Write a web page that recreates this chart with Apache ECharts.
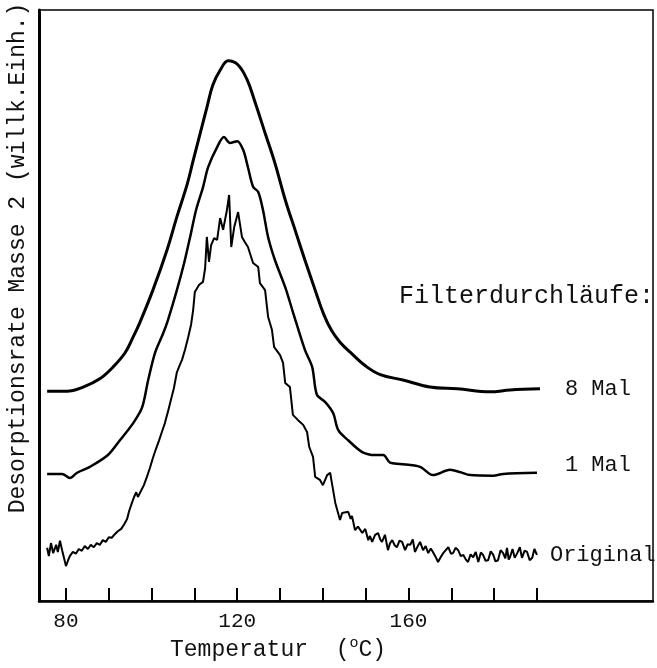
<!DOCTYPE html>
<html lang="de">

<head>
    <meta charset="UTF-8">
    <title>Desorptionsrate Masse 2</title>
    <script src="https://cdn.jsdelivr.net/npm/echarts@6/dist/echarts.min.js"></script>
    <style>
        html, body { margin: 0; padding: 0; background: #fff; }
    </style>
</head>

<body>

    <div id="main" style="width: 657px;height: 668px;"></div>

    <script type="text/javascript">
        // Temperatur (°C) und Desorptionsrate (willk. Einh.) fuer jede Kurve
        var temp8 = [75.6, 80.2, 84.0, 87.9, 91.0, 93.8, 95.7, 97.3, 100.3, 103.6, 105.9, 108.3, 109.7, 111.3, 112.9,
            114.3, 116.0, 117.9, 120.2, 122.3, 124.2, 126.5, 128.8, 131.2, 133.5, 135.8, 138.2, 140.2, 142.0, 144.0,
            146.8, 149.9, 153.4, 158.7, 165.0, 171.4, 179.1, 183.7, 190.7];
        var rate8 = [35.5, 35.5, 36.2, 37.6, 39.6, 42.0, 44.7, 47.2, 52.6, 59.4, 65.0, 70.5, 74.5, 79.0, 83.5,
            87.3, 89.8, 91.4, 90.7, 88.2, 84.3, 79.2, 74.1, 67.9, 62.8, 57.7, 52.6, 48.5, 45.8, 43.8,
            41.8, 39.8, 38.3, 37.4, 36.2, 35.9, 35.4, 35.7, 35.9];

        var temp1 = [75.6, 79.1, 80.9, 82.6, 85.6, 89.8, 92.6, 95.7, 97.8, 99.2, 100.8, 102.7, 103.8, 105.9, 107.6,
            109.0, 110.4, 112.0, 113.2, 115.3, 116.9, 118.3, 120.0, 121.4, 122.5, 123.7, 124.9, 126.0, 127.2, 128.8,
            131.2, 133.0, 135.8, 137.5, 138.6, 140.5, 142.4, 143.6, 145.9, 149.2, 152.2, 154.1, 155.7, 158.0, 162.7,
            165.7, 169.7, 172.1, 174.4, 179.8, 182.1, 190.0];
        var rate1 = [21.5, 21.5, 20.8, 21.7, 22.7, 24.7, 27.2, 30.1, 32.8, 37.4, 42.0, 45.3, 47.5, 52.6, 57.2,
            61.6, 66.2, 70.0, 73.4, 76.8, 78.5, 77.5, 77.8, 76.3, 73.4, 70.1, 69.2, 66.2, 61.6, 57.7,
            53.1, 48.9, 42.5, 39.6, 34.9, 33.7, 31.8, 28.9, 27.2, 25.2, 24.7, 24.7, 23.4, 23.2, 22.7,
            21.3, 22.2, 21.8, 21.3, 21.2, 21.5, 21.7];

        var tempOrig = [75.6, 76.0, 76.5, 77.0, 77.7, 78.1, 78.6, 79.1, 79.5, 80.0, 80.5, 80.9, 81.6, 82.3, 83.0,
            83.7, 84.4, 85.1, 85.8, 86.5, 87.2, 87.9, 88.6, 89.3, 90.0, 90.7, 91.4, 92.1, 92.9, 93.6,
            94.3, 94.7, 95.4, 95.9, 96.4, 96.8, 97.5, 98.2, 98.9, 99.6, 100.3, 101.0, 101.7, 102.4, 103.1,
            103.8, 104.5, 105.2, 105.9, 106.4, 107.1, 107.8, 108.5, 109.2, 109.7, 110.1, 111.1, 112.0, 112.5, 112.9,
            113.4, 113.9, 114.6, 115.3, 116.0, 116.7, 117.6, 118.1, 118.6, 119.3, 120.2, 121.1, 121.8, 122.5, 123.7,
            124.9, 125.3, 126.5, 127.2, 128.1, 128.6, 130.0, 130.7, 131.2, 132.3, 133.0, 134.2, 135.4, 136.3, 136.8,
            137.7, 138.2, 139.3, 140.0, 141.0, 141.7, 142.1, 142.9, 144.0, 144.5,
            145.9, 146.5, 146.8, 147.5, 148.2, 149.2, 149.9, 150.6, 151.0, 151.5,
            152.2, 152.9, 153.4, 153.8, 154.5, 155.2, 155.7, 156.2, 156.8, 157.3,
            157.9, 158.5, 159.2, 159.8, 160.4, 161.0, 161.5, 162.1, 162.7, 163.4,
            164.0, 164.6, 165.2, 165.7, 166.3, 166.9, 167.5, 168.1, 168.7, 169.3,
            169.9, 170.4, 171.0, 171.6, 172.2, 172.8, 173.4, 173.9, 174.5, 175.1,
            175.7, 176.3, 176.9, 177.4, 178.0, 178.6, 179.2, 179.8, 180.3, 180.9,
            181.5, 182.1, 182.6, 183.0, 183.4, 183.7, 184.3, 184.8, 185.4, 186.0,
            186.5, 187.1, 187.7, 188.3, 188.9, 189.4, 190.0];
        var rateOrig = [9.0, 7.6, 9.8, 8.1, 9.5, 8.3, 10.2, 8.6, 7.4, 5.9, 6.9, 7.6, 8.3, 8.0, 8.8,
            8.5, 9.3, 8.8, 9.5, 9.1, 9.8, 9.5, 10.3, 10.0, 10.8, 10.7, 11.3, 11.8, 12.2, 13.0,
            13.9, 15.1, 16.6, 17.6, 18.4, 17.6, 18.6, 19.6, 21.0, 22.5, 24.2, 25.7, 27.1, 28.6, 30.1,
            32.0, 34.0, 36.0, 38.7, 39.6, 40.8, 42.5, 44.5, 46.7, 49.2, 52.3, 53.5, 54.0, 56.3, 61.6,
            57.4, 60.2, 61.4, 61.1, 64.8, 62.8, 66.2, 68.7, 59.9, 63.3, 65.8, 61.6, 60.7, 59.9, 57.2,
            56.5, 53.8, 52.6, 48.1, 45.9, 43.0, 41.6, 40.3, 36.9, 36.2, 31.5, 30.6, 29.8, 28.6, 26.1,
            24.4, 21.0, 20.5, 19.6, 21.3, 21.7, 20.0, 16.6, 13.7, 14.9,
            15.1, 13.9, 14.4, 12.0, 12.6, 11.5, 12.2, 10.3, 11.0, 10.0,
            11.2, 11.5, 10.4, 10.0, 11.2, 8.6, 9.8, 10.3, 9.4, 9.1,
            10.2, 10.0, 8.6, 9.6, 9.5, 10.4, 8.3, 9.2, 10.0, 8.6,
            9.3, 8.1, 8.9, 8.3, 7.5, 6.6, 7.4, 8.1, 8.6, 9.1,
            8.0, 8.1, 9.0, 8.6, 7.6, 7.8, 7.0, 6.6, 7.9, 7.4,
            8.3, 6.6, 8.2, 7.8, 6.8, 6.9, 8.4, 7.8, 6.7, 6.9,
            8.6, 8.1, 7.2, 9.0, 7.0, 7.4, 8.8, 7.3, 8.1, 9.1,
            7.3, 8.5, 8.3, 6.9, 7.3, 8.8, 7.8];

        var tickTemps = [80, 90, 100, 110, 120, 130, 140, 150, 160, 170, 180, 190];
        var labelTemps = [80, 120, 160];

        var font = '"Liberation Mono", "DejaVu Sans Mono", monospace';

        function pairs(xs, ys) {
            return xs.map(function (x, i) { return [x, ys[i]]; });
        }

        var myChart = echarts.init(document.getElementById('main'));

        var option = {
            backgroundColor: '#fff',
            animation: false,
            grid: {
                left: 39,
                right: 4,
                top: 10,
                bottom: 67,
                show: true,
                borderColor: '#000',
                borderWidth: 1.5,
                outerBoundsMode: 'none'
            },
            xAxis: {
                type: 'value',
                min: 73.7,
                max: 217.1,
                splitLine: { show: false },
                axisLine: { show: true, lineStyle: { color: '#000', width: 2.5 } },
                axisTick: {
                    show: true,
                    inside: true,
                    length: 13,
                    customValues: tickTemps,
                    lineStyle: { color: '#000', width: 2 }
                },
                axisLabel: {
                    customValues: labelTemps,
                    color: '#111',
                    fontFamily: font,
                    fontSize: 21,
                    margin: 10
                }
            },
            yAxis: {
                type: 'value',
                min: 0,
                max: 100,
                splitLine: { show: false },
                axisLine: { show: true, lineStyle: { color: '#000', width: 3 } },
                axisTick: { show: false },
                axisLabel: { show: false }
            },
            graphic: [
                {
                    type: 'text',
                    x: 18,
                    y: 258,
                    rotation: Math.PI / 2,
                    style: {
                        text: 'Desorptionsrate Masse 2 (willk.Einh.)',
                        font: '23px ' + font,
                        fill: '#111',
                        align: 'center',
                        verticalAlign: 'middle'
                    }
                },
                {
                    type: 'text',
                    x: 170,
                    y: 650,
                    style: {
                        text: '{a|Temperatur  (}{s|o}{a|C)}',
                        fill: '#111',
                        verticalAlign: 'middle',
                        rich: {
                            a: { fontFamily: font, fontSize: 23, lineHeight: 28, fill: '#111' },
                            s: { fontFamily: font, fontSize: 15, lineHeight: 28, verticalAlign: 'top', fill: '#111' }
                        }
                    }
                },
                {
                    type: 'text',
                    x: 399,
                    y: 296,
                    style: {
                        text: 'Filterdurchläufe:',
                        font: '25px ' + font,
                        fill: '#111',
                        verticalAlign: 'middle'
                    }
                }
            ],
            series: [
                {
                    name: '8 Mal',
                    type: 'line',
                    data: pairs(temp8, rate8),
                    smooth: 0.4,
                    showSymbol: false,
                    lineStyle: { color: '#000', width: 3 },
                    endLabel: {
                        show: true,
                        formatter: '{a}',
                        distance: 25,
                        color: '#111',
                        fontFamily: font,
                        fontSize: 22
                    }
                },
                {
                    name: '1 Mal',
                    type: 'line',
                    data: pairs(temp1, rate1),
                    smooth: 0.3,
                    showSymbol: false,
                    lineStyle: { color: '#000', width: 2.5 },
                    endLabel: {
                        show: true,
                        formatter: '{a}',
                        distance: 28,
                        offset: [0, -8],
                        color: '#111',
                        fontFamily: font,
                        fontSize: 22
                    }
                },
                {
                    name: 'Original',
                    type: 'line',
                    data: pairs(tempOrig, rateOrig),
                    showSymbol: false,
                    lineStyle: { color: '#000', width: 2 },
                    endLabel: {
                        show: true,
                        formatter: '{a}',
                        distance: 13,
                        color: '#111',
                        fontFamily: font,
                        fontSize: 22
                    }
                }
            ]
        };

        myChart.setOption(option);
    </script>

</body>

</html>
